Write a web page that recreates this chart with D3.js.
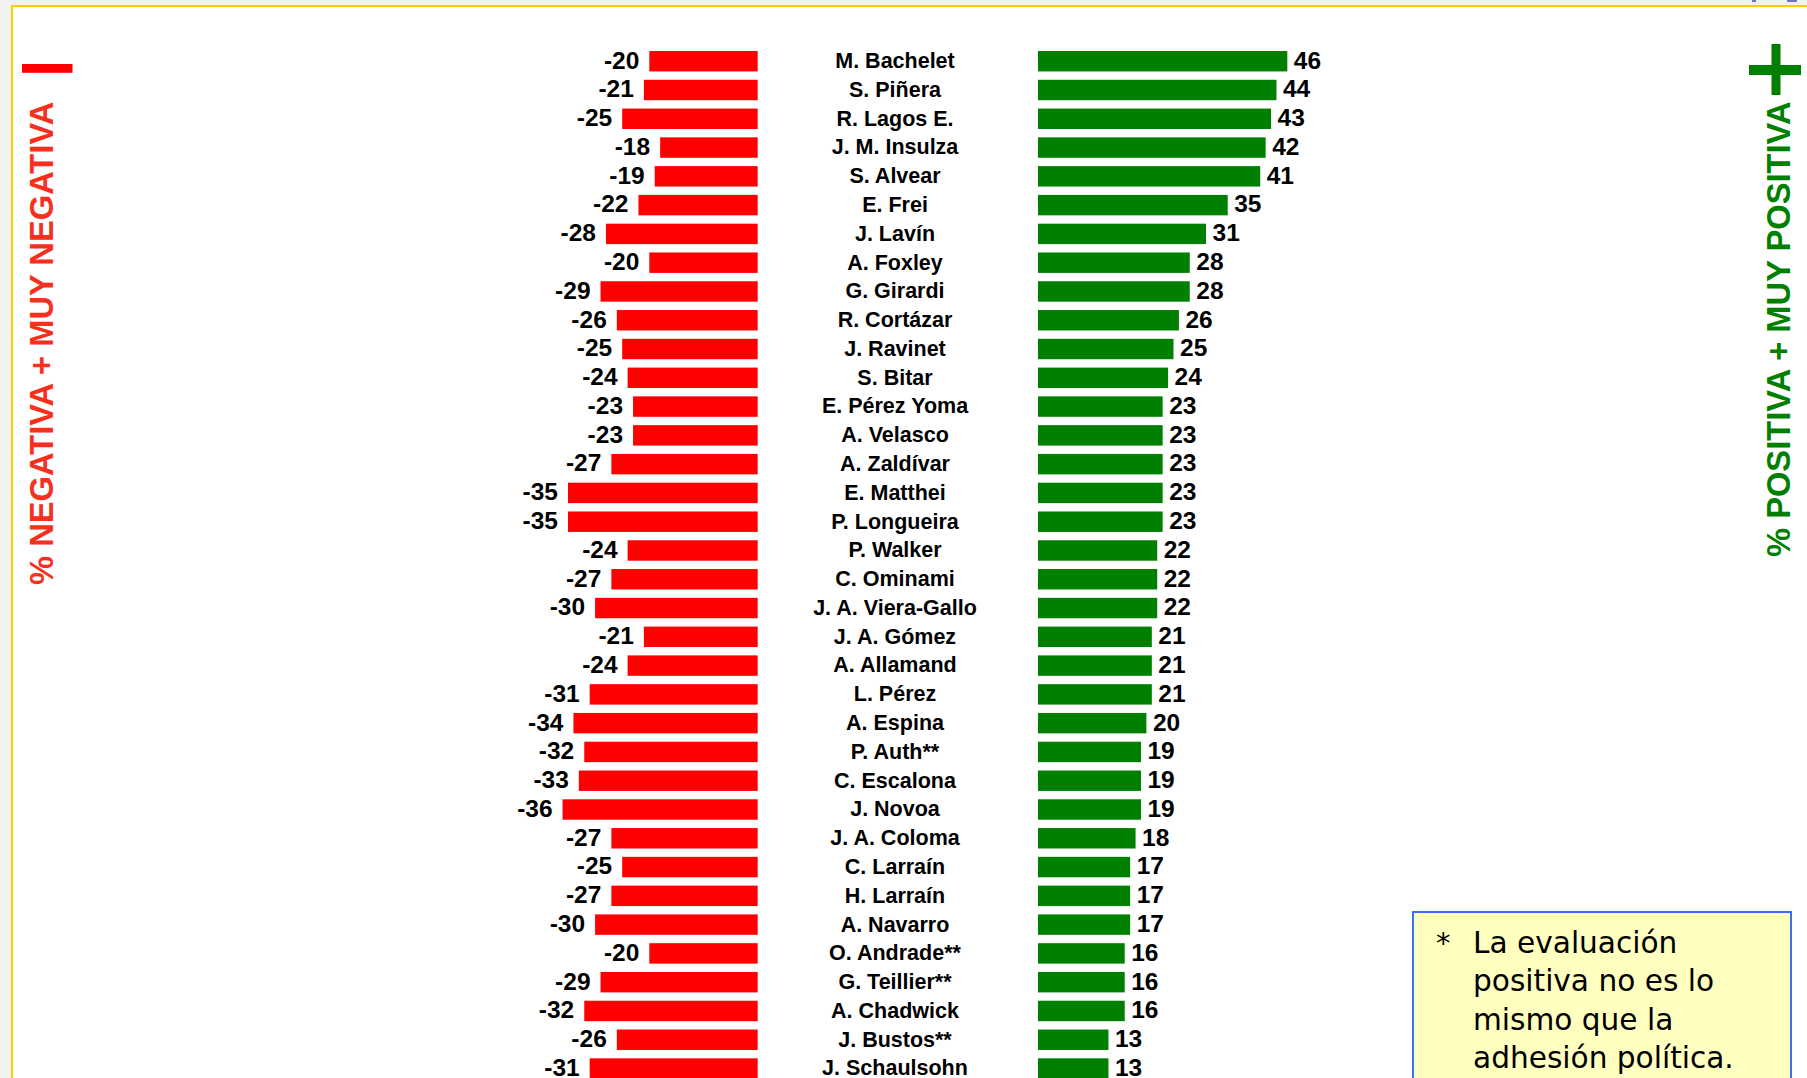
<!DOCTYPE html>
<html>
<head>
<meta charset="utf-8">
<script src="https://cdn.jsdelivr.net/npm/d3@7"></script>
<style>
  html, body { margin: 0; padding: 0; background: #f1f1f1; overflow: hidden; }
  svg { display: block; }
</style>
</head>
<body>
<svg id="chart" width="1807" height="1078"></svg>
<script>
// ---- data ----
const names = [
  "M. Bachelet", "S. Piñera", "R. Lagos E.", "J. M. Insulza", "S. Alvear", "E. Frei",
  "J. Lavín", "A. Foxley", "G. Girardi", "R. Cortázar", "J. Ravinet", "S. Bitar",
  "E. Pérez Yoma", "A. Velasco", "A. Zaldívar", "E. Matthei", "P. Longueira", "P. Walker",
  "C. Ominami", "J. A. Viera-Gallo", "J. A. Gómez", "A. Allamand", "L. Pérez", "A. Espina",
  "P. Auth**", "C. Escalona", "J. Novoa", "J. A. Coloma", "C. Larraín", "H. Larraín",
  "A. Navarro", "O. Andrade**", "G. Teillier**", "A. Chadwick", "J. Bustos**", "J. Schaulsohn"
];
const negative = [
  -20, -21, -25, -18, -19, -22,
  -28, -20, -29, -26, -25, -24,
  -23, -23, -27, -35, -35, -24,
  -27, -30, -21, -24, -31, -34,
  -32, -33, -36, -27, -25, -27,
  -30, -20, -29, -32, -26, -31
];
const positive = [
  46, 44, 43, 42, 41, 35,
  31, 28, 28, 26, 25, 24,
  23, 23, 23, 23, 23, 22,
  22, 22, 21, 21, 21, 20,
  19, 19, 19, 18, 17, 17,
  17, 16, 16, 16, 13, 13
];
const leftTitle = "% NEGATIVA + MUY NEGATIVA";
const rightTitle = "% POSITIVA + MUY POSITIVA";
const noteLines = ["La evaluación", "positiva no es lo", "mismo que la", "adhesión política."];

// ---- layout ----
const svg = d3.select("#chart");
const rows = names.map((n, i) => ({ name: n, neg: negative[i], pos: positive[i] }));

const unit = 5.42;
const negZero = 757.7, posZero = 1038;
const xNeg = d3.scaleLinear().domain([0, 40]).range([negZero, negZero - 40 * unit]);
const xPos = d3.scaleLinear().domain([0, 50]).range([posZero, posZero + 50 * unit]);
const step = 28.78;
const y = d3.scaleBand().domain(names)
  .range([46.83, 46.83 + 36 * step])
  .paddingInner(0.29).paddingOuter(0.145);

// page panel
svg.append("rect").attr("x", 0).attr("y", 0).attr("width", 1807).attr("height", 1078).attr("fill", "#f1f1f1");
svg.append("rect").attr("x", 12).attr("y", 6).attr("width", 1900).attr("height", 1200)
  .attr("fill", "#ffffff").attr("stroke", "#ffcc00").attr("stroke-width", 2);

// tiny fragments at the very top right
svg.append("rect").attr("x", 1752).attr("y", 0).attr("width", 4).attr("height", 2).attr("fill", "#7070d0");
svg.append("rect").attr("x", 1787).attr("y", 0).attr("width", 10).attr("height", 2).attr("fill", "#7070d0");

const font = "'Liberation Sans', Arial, Helvetica, sans-serif";

// negative bars
svg.append("g").selectAll("rect").data(rows).join("rect")
  .attr("x", d => xNeg(-d.neg))
  .attr("y", d => y(d.name))
  .attr("width", d => xNeg(0) - xNeg(-d.neg))
  .attr("height", y.bandwidth())
  .attr("fill", "#ff0000");

// positive bars
svg.append("g").selectAll("rect").data(rows).join("rect")
  .attr("x", xPos(0))
  .attr("y", d => y(d.name))
  .attr("width", d => xPos(d.pos) - xPos(0))
  .attr("height", y.bandwidth())
  .attr("fill", "#008000");

const valSize = 24.5, nameSize = 21.5;

// negative value labels
svg.append("g").selectAll("text").data(rows).join("text")
  .attr("x", d => xNeg(-d.neg) - 10)
  .attr("y", d => y(d.name) + y.bandwidth() / 2 + valSize * 0.3)
  .attr("text-anchor", "end")
  .attr("font-family", font).attr("font-weight", "bold").attr("font-size", valSize)
  .attr("fill", "#000").text(d => d.neg);

// positive value labels
svg.append("g").selectAll("text").data(rows).join("text")
  .attr("x", d => xPos(d.pos) + 6.5)
  .attr("y", d => y(d.name) + y.bandwidth() / 2 + valSize * 0.3)
  .attr("text-anchor", "start")
  .attr("font-family", font).attr("font-weight", "bold").attr("font-size", valSize)
  .attr("fill", "#000").text(d => d.pos);

// names
svg.append("g").selectAll("text").data(rows).join("text")
  .attr("x", 895)
  .attr("y", d => y(d.name) + y.bandwidth() / 2 + nameSize * 0.32)
  .attr("text-anchor", "middle")
  .attr("font-family", font).attr("font-weight", "bold").attr("font-size", nameSize)
  .attr("fill", "#000").text(d => d.name);

// left side title and minus sign
svg.append("rect").attr("x", 22).attr("y", 64).attr("width", 50.5).attr("height", 8.8).attr("fill", "#ff0000");
svg.append("text")
  .attr("transform", "translate(52.5,585) rotate(-90)")
  .attr("font-family", font).attr("font-weight", "bold").attr("font-size", 32.7)
  .attr("fill", "#f7301e").text(leftTitle);

// right side title and plus sign
svg.append("rect").attr("x", 1749).attr("y", 65).attr("width", 52).attr("height", 10).attr("fill", "#008000");
svg.append("rect").attr("x", 1771.5).attr("y", 44).attr("width", 9).attr("height", 51).attr("fill", "#008000");
svg.append("text")
  .attr("transform", "translate(1789.5,557) rotate(-90)")
  .attr("font-family", font).attr("font-weight", "bold").attr("font-size", 32.7)
  .attr("fill", "#008000").text(rightTitle);

// note box
svg.append("rect").attr("x", 1413).attr("y", 912).attr("width", 378).attr("height", 200)
  .attr("fill", "#ffffc0").attr("stroke", "#3d6ff2").attr("stroke-width", 2);
const noteFont = "'DejaVu Sans', Verdana, sans-serif";
svg.append("text").attr("x", 1436).attr("y", 953)
  .attr("font-family", noteFont).attr("font-size", 29).attr("fill", "#000").text("*");
svg.append("g").selectAll("text").data(noteLines).join("text")
  .attr("x", 1473)
  .attr("y", (d, i) => 953 + i * 38.3)
  .attr("font-family", noteFont).attr("font-size", 29.6).attr("fill", "#000")
  .text(d => d);
</script>
</body>
</html>
